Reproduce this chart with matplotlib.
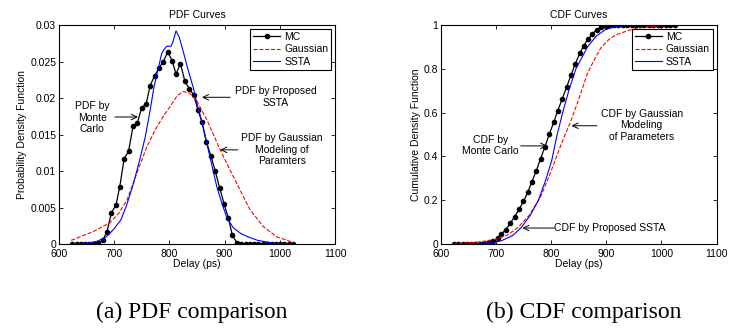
import matplotlib
matplotlib.use('Agg')
import matplotlib.pyplot as plt

plt.rcParams['font.family'] = ['Liberation Sans', 'DejaVu Sans']

# Monte Carlo bins (ps) shared by both panels
mc_delay = [624, 632, 640, 648, 655, 663, 671, 679, 687, 695, 703, 710, 718,
            726, 734, 742, 750, 758, 765, 773, 781, 789, 797, 805, 812, 820,
            828, 836, 844, 852, 859, 867, 875, 883, 891, 899, 907, 914, 922,
            930, 938, 946, 953, 961, 969, 977, 985, 993, 1000, 1008, 1016, 1024]
mc_pdf = [0, 0, 0, 0, 0, 0, 0.0001, 0.0005, 0.0017, 0.0043, 0.0053, 0.0078,
          0.0117, 0.0127, 0.0161, 0.0166, 0.0187, 0.0192, 0.0217, 0.0230,
          0.0241, 0.0250, 0.0263, 0.0251, 0.0233, 0.0247, 0.0223, 0.0213,
          0.0204, 0.0183, 0.0167, 0.0140, 0.0121, 0.0100, 0.0077, 0.0055,
          0.0035, 0.0012, 0.0002, 0, 0, 0, 0, 0, 0, 0, 0, 0, 0, 0, 0, 0]
mc_cdf = [0, 0, 0, 0, 0, 0, 0.001, 0.003, 0.007, 0.012, 0.028, 0.045, 0.066,
          0.094, 0.125, 0.158, 0.195, 0.238, 0.283, 0.333, 0.390, 0.445,
          0.503, 0.557, 0.609, 0.661, 0.716, 0.770, 0.824, 0.871, 0.905,
          0.935, 0.961, 0.979, 0.990, 0.996, 0.999, 1, 1, 1, 1, 1, 1, 1, 1,
          1, 1, 1, 1, 1, 1, 1]

# Gaussian modeling of parameters
gauss_pdf_x = [622, 632, 662, 692, 708, 723, 741, 759, 774, 788, 801, 813,
               824, 836, 849, 868, 892, 910, 928, 946, 970, 994, 1025]
gauss_pdf_y = [0.0005, 0.0008, 0.0017, 0.0029, 0.0042, 0.0060, 0.0097,
               0.0133, 0.0156, 0.0174, 0.0188, 0.0202, 0.0209, 0.0207,
               0.0197, 0.0170, 0.0129, 0.0101, 0.0074, 0.0047, 0.0024,
               0.0010, 0.0002]
gauss_cdf_x = [622, 650, 680, 700, 720, 740, 760, 780, 795, 810, 822, 834,
               850, 866, 880, 890, 905, 917, 940, 960, 980, 1000, 1025]
gauss_cdf_y = [0.002, 0.005, 0.012, 0.022, 0.040, 0.075, 0.130, 0.210, 0.300,
               0.400, 0.480, 0.550, 0.660, 0.780, 0.850, 0.895, 0.935, 0.955,
               0.975, 0.987, 0.993, 0.997, 1.0]

# Proposed SSTA
ssta_pdf_x = [625, 650, 670, 686, 700, 712, 722, 733, 742, 749, 756, 762, 767,
              772, 779, 786, 790, 795, 803, 806, 812, 818, 826, 834, 843, 850,
              858, 865, 872, 879, 886, 895, 904, 916, 930, 945, 960, 975, 990,
              1005, 1025]
ssta_pdf_y = [0, 0.0001, 0.0004, 0.0010, 0.0021, 0.0033, 0.0052, 0.0078,
              0.0103, 0.0124, 0.0146, 0.0170, 0.0192, 0.0215, 0.0238, 0.0261,
              0.0266, 0.0271, 0.0271, 0.0276, 0.0292, 0.0283, 0.0261, 0.0238,
              0.0215, 0.0192, 0.0170, 0.0147, 0.0124, 0.0101, 0.0078, 0.0056,
              0.0036, 0.0022, 0.0014, 0.0009, 0.0005, 0.0003, 0.0001, 0.00005, 0]
ssta_cdf_x = [622, 660, 690, 710, 730, 746, 762, 777, 790, 801, 811, 821, 832,
              845, 866, 882, 898, 915, 935, 960, 1025]
ssta_cdf_y = [0, 0.001, 0.005, 0.015, 0.038, 0.075, 0.130, 0.200, 0.290, 0.380,
              0.500, 0.600, 0.700, 0.800, 0.900, 0.950, 0.978, 0.993, 0.998,
              1.0, 1.0]

pdf_ticks = [0, 0.005, 0.01, 0.015, 0.02, 0.025, 0.03]
pdf_ticklabels = ['0', '0.005', '0.01', '0.015', '0.02', '0.025', '0.03']
cdf_ticks = [0, 0.2, 0.4, 0.6, 0.8, 1]
cdf_ticklabels = ['0', '0.2', '0.4', '0.6', '0.8', '1']
delay_ticks = [600, 700, 800, 900, 1000, 1100]

fs = 7.5
fig = plt.figure(figsize=(7.44, 3.31), dpi=100)
ax1 = fig.add_axes([0.0793, 0.2628, 0.371, 0.6616])
ax2 = fig.add_axes([0.5923, 0.2628, 0.371, 0.6616])


def style(ax, yticks, ylabels, ylim, title, ylabel):
    ax.set_xlim(600, 1100)
    ax.set_ylim(*ylim)
    ax.set_xticks(delay_ticks)
    ax.set_xticklabels([str(t) for t in delay_ticks], fontsize=fs)
    ax.set_yticks(yticks)
    ax.set_yticklabels(ylabels, fontsize=fs)
    ax.tick_params(direction='in', top=True, right=True, length=3, width=0.6, pad=2)
    ax.tick_params(axis='x', pad=3.5)
    for s in ax.spines.values():
        s.set_linewidth(0.8)
    ax.set_title(title, fontsize=fs, pad=5)
    ax.set_xlabel('Delay (ps)', fontsize=fs, labelpad=0)
    ax.set_ylabel(ylabel, fontsize=fs, labelpad=2)
    leg = ax.legend(loc='upper right', fontsize=fs, fancybox=False, framealpha=1,
                    edgecolor='black', borderpad=0.3, labelspacing=0.25,
                    handlelength=2.6, handletextpad=0.4, borderaxespad=0.35)
    leg.get_frame().set_linewidth(0.8)


arrow = dict(arrowstyle='->', color='black', lw=0.7, shrinkA=0, shrinkB=0)

# PDF panel
ax1.plot(mc_delay, mc_pdf, '-', color='black', marker='o', markersize=3, lw=0.9, label='MC')
ax1.plot(gauss_pdf_x, gauss_pdf_y, '--', color='red', lw=0.8, label='Gaussian')
ax1.plot(ssta_pdf_x, ssta_pdf_y, '-', color='blue', lw=0.8, label='SSTA')
style(ax1, pdf_ticks, pdf_ticklabels, (0, 0.03), 'PDF Curves', 'Probability Density Function')
ax1.text(660, 0.0173, 'PDF by\nMonte\nCarlo', fontsize=fs, ha='center', va='center', linespacing=1.2)
ax1.annotate('', xy=(743, 0.0174), xytext=(701, 0.0174), arrowprops=arrow)
ax1.text(992, 0.0201, 'PDF by Proposed\nSSTA', fontsize=fs, ha='center', va='center', linespacing=1.2)
ax1.annotate('', xy=(859, 0.0201), xytext=(910, 0.0201), arrowprops=arrow)
ax1.text(1004, 0.0129, 'PDF by Gaussian\nModeling of\nParamters', fontsize=fs, ha='center', va='center', linespacing=1.2)
ax1.annotate('', xy=(892, 0.0129), xytext=(924, 0.0129), arrowprops=arrow)

# CDF panel
ax2.plot(mc_delay, mc_cdf, '-', color='black', marker='o', markersize=3, lw=0.9, label='MC')
ax2.plot(gauss_cdf_x, gauss_cdf_y, '--', color='red', lw=0.8, label='Gaussian')
ax2.plot(ssta_cdf_x, ssta_cdf_y, '-', color='blue', lw=0.8, label='SSTA')
style(ax2, cdf_ticks, cdf_ticklabels, (0, 1), 'CDF Curves', 'Cumulative Density Function')
ax2.text(690, 0.45, 'CDF by\nMonte Carlo', fontsize=fs, ha='center', va='center', linespacing=1.2)
ax2.annotate('', xy=(793, 0.448), xytext=(745, 0.448), arrowprops=arrow)
ax2.text(964, 0.543, 'CDF by Gaussian\nModeling\nof Parameters', fontsize=fs, ha='center', va='center', linespacing=1.2)
ax2.annotate('', xy=(837, 0.54), xytext=(883, 0.54), arrowprops=arrow)
ax2.text(806, 0.073, 'CDF by Proposed SSTA', fontsize=fs, ha='left', va='center')
ax2.annotate('', xy=(748, 0.073), xytext=(806, 0.073), arrowprops=arrow)

# captions
fig.text(0.258, 0.057, '(a) PDF comparison', fontsize=17, ha='center', va='center',
         family=['Liberation Serif', 'DejaVu Serif'])
fig.text(0.784, 0.057, '(b) CDF comparison', fontsize=17, ha='center', va='center',
         family=['Liberation Serif', 'DejaVu Serif'])

fig.savefig('out.png', dpi=100)
